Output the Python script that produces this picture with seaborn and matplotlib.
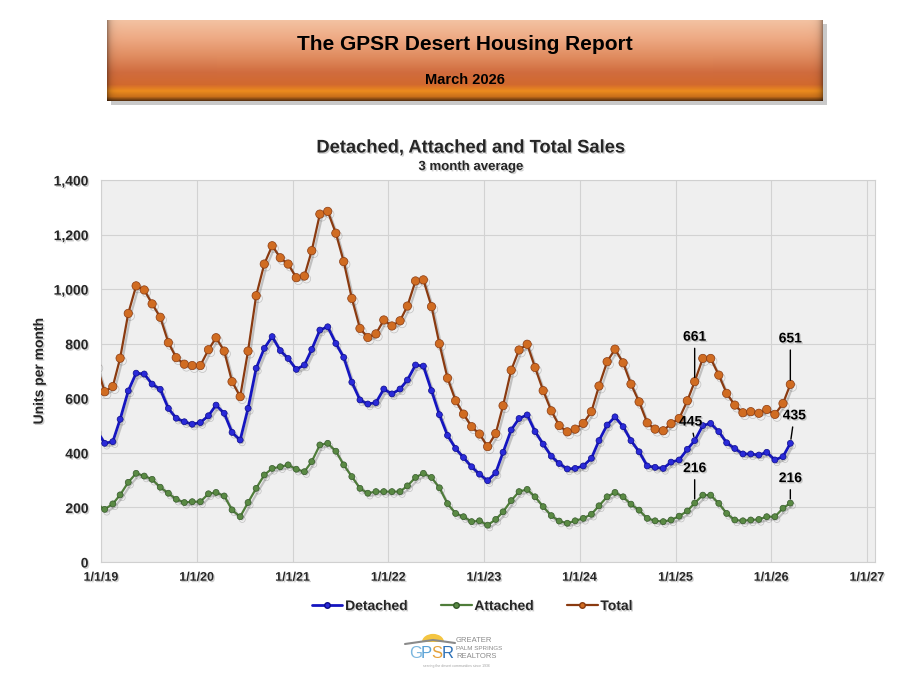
import numpy as np
import pandas as pd
import matplotlib
matplotlib.use("Agg")
import matplotlib.pyplot as plt
import matplotlib.patheffects as pe
from matplotlib.ticker import FuncFormatter, FixedLocator
from matplotlib.patches import Wedge, Rectangle
from matplotlib.lines import Line2D
from matplotlib import font_manager
import seaborn as sns

# ---------------- data ----------------
start_month = "2018-12-01"
end_month = "2026-03-01"

detached = [483,
            435, 441, 523, 627, 692, 689, 652, 633, 563, 527, 514, 505,
            511, 536, 575, 545, 475, 447, 563, 710, 783, 826, 775, 746,
            706, 722, 779, 850, 862, 801, 750, 659, 594, 579, 584, 634,
            616, 634, 667, 722, 718, 628, 540, 464, 416, 383, 349, 322,
            298, 327, 402, 484, 526, 539, 478, 432, 388, 361, 341, 343,
            352, 380, 445, 502, 532, 496, 445, 404, 352, 347, 343, 366,
            374, 413, 445, 500, 508, 478, 437, 416, 396, 396, 392, 402,
            374, 386, 435]

attached = [213,
            193, 213, 246, 292, 325, 315, 303, 274, 252, 230, 218, 221,
            221, 250, 255, 242, 191, 166, 218, 270, 319, 343, 349, 356,
            340, 331, 368, 429, 435, 406, 356, 313, 270, 252, 258, 258,
            258, 258, 279, 310, 325, 310, 272, 214, 178, 166, 148, 151,
            135, 156, 184, 225, 258, 266, 239, 203, 170, 150, 142, 151,
            160, 175, 206, 239, 255, 239, 212, 190, 160, 151, 148, 154,
            168, 187, 216, 245, 245, 215, 178, 154, 151, 154, 156, 166,
            166, 197, 216]

total = [720,
         624, 643, 747, 911, 1012, 997, 946, 897, 804, 749, 725, 720,
         720, 778, 822, 773, 661, 606, 773, 976, 1092, 1159, 1115, 1092,
         1042, 1048, 1141, 1275, 1285, 1205, 1101, 966, 856, 823, 836, 887,
         865, 884, 938, 1030, 1034, 936, 800, 674, 591, 542, 496, 469,
         423, 471, 573, 703, 777, 798, 713, 628, 554, 500, 477, 487,
         508, 551, 645, 734, 780, 730, 652, 587, 510, 487, 481, 507,
         526, 591, 661, 746, 746, 685, 618, 575, 547, 551, 545, 559,
         541, 581, 651]

series_names = ["Detached", "Attached", "Total"]
y_ticks = [0, 200, 400, 600, 800, 1000, 1200, 1400]
x_tick_years = [2019, 2020, 2021, 2022, 2023, 2024, 2025, 2026, 2027]
label_months = ["2025-03", "2026-03"]

banner_title = "The GPSR Desert Housing Report"
banner_sub = "March 2026"
chart_title = "Detached, Attached and Total Sales"
chart_sub = "3 month average"
y_label = "Units per month"

# ---------------- style ----------------
sns.set_style("white")
plt.rcParams["font.family"] = ["Liberation Sans", "DejaVu Sans"]

def has_font(name):
    try:
        font_manager.findfont(font_manager.FontProperties(family=name, weight="bold"),
                              fallback_to_default=False)
        return True
    except Exception:
        return False

narrow = "Liberation Sans Narrow" if has_font("Liberation Sans Narrow") else None

W, H = 915, 675
fig = plt.figure(figsize=(W / 100, H / 100), dpi=100)
fig.patch.set_facecolor("white")

shadow_txt = [pe.withSimplePatchShadow(offset=(1, -1), shadow_rgbFace="#777777", alpha=0.35)]

# ---------------- banner ----------------
bx0, by0, bw, bh = 107, 20, 716, 81
fig.add_artist(Rectangle(((bx0 + 4) / W, 1 - (by0 + bh + 4) / H), bw / W, bh / H,
                         transform=fig.transFigure, facecolor="#888888", alpha=0.45,
                         edgecolor="none", zorder=0))
bax = fig.add_axes([bx0 / W, 1 - (by0 + bh) / H, bw / W, bh / H], zorder=1)
stops = [(0.00, "#f3c2a2"), (0.22, "#eeaa84"), (0.45, "#e08c60"), (0.65, "#d06c3e"),
         (0.80, "#d2692e"), (0.88, "#ec8c1e"), (0.95, "#c9701a"), (1.00, "#5e3410")]
pos = np.array([s[0] for s in stops])
cols = np.array([matplotlib.colors.to_rgb(s[1]) for s in stops])
yy = np.linspace(0, 1, bh)
vert = np.stack([np.interp(yy, pos, cols[:, c]) for c in range(3)], axis=1)
xx = np.arange(bw)
d = np.minimum(xx, bw - 1 - xx)
hfac = 1 - 0.35 * np.exp(-d / 3.0)
img = vert[:, None, :] * hfac[None, :, None]
bax.imshow(img, aspect="auto", extent=(0, 1, 0, 1), interpolation="bilinear")
bax.set_axis_off()

fig.text(465 / W, 1 - 44 / H, banner_title, ha="center", va="center",
         fontsize=15, fontweight="bold", color="black", zorder=3)
fig.text(465 / W, 1 - 80 / H, banner_sub, ha="center", va="center",
         fontsize=10.5, fontweight="bold", color="black", zorder=3)

# ---------------- titles ----------------
tfam = [narrow, "Liberation Sans"] if narrow else ["Liberation Sans"]
fig.text(471 / W, 1 - 148 / H, chart_title, ha="center", va="center",
         fontsize=15.5 if narrow else 13.2, fontweight="bold", family=tfam,
         path_effects=shadow_txt)
fig.text(471 / W, 1 - 167 / H, chart_sub, ha="center", va="center",
         fontsize=9.5, fontweight="bold", path_effects=shadow_txt)

# ---------------- chart ----------------
months = pd.date_range(start_month, end_month, freq="MS") + pd.Timedelta(days=14)
df = pd.DataFrame({"date": months, "Detached": detached,
                   "Attached": attached, "Total": total})
long = df.melt(id_vars="date", var_name="series", value_name="units")

ax = fig.add_axes([101 / W, 1 - 562 / H, (875 - 101) / W, (562 - 180) / H])
ax.set_facecolor("#efefef")

styles = {
    "Detached": dict(line="#1515c0", mfc="#2a2ad8", mec="#0c0c8a", lw=2.0, ms=4.3, z=4),
    "Attached": dict(line="#4f7d3a", mfc="#5a8a44", mec="#34582a", lw=1.6, ms=4.3, z=3),
    "Total": dict(line="#8a3a10", mfc="#d06c22", mec="#8a3a10", lw=1.6, ms=6.0, z=5),
}
line_shadow = [pe.SimpleLineShadow(offset=(1.5, -2), shadow_color="#555555", alpha=0.3),
               pe.Normal()]
for name in series_names:
    st = styles[name]
    sns.lineplot(data=long[long["series"] == name], x="date", y="units", ax=ax,
                 color=st["line"], linewidth=st["lw"], marker="o",
                 markersize=st["ms"], markerfacecolor=st["mfc"],
                 markeredgecolor=st["mec"], markeredgewidth=0.5,
                 zorder=st["z"], label=name, path_effects=line_shadow)

ax.set_xlim(pd.Timestamp("2019-01-01"), pd.Timestamp("2027-02-01"))
ax.set_ylim(0, 1400)
ax.yaxis.set_major_locator(FixedLocator(y_ticks))
ax.yaxis.set_major_formatter(FuncFormatter(lambda v, p: f"{v:,.0f}"))
xt = [matplotlib.dates.date2num(pd.Timestamp(f"{y}-01-01")) for y in x_tick_years]
ax.set_xticks(xt)
ax.set_xticklabels([f"1/1/{y % 100:02d}" for y in x_tick_years])
ax.grid(True, color="#d2d2d2", linewidth=0.8)
ax.set_axisbelow(True)
for s in ax.spines.values():
    s.set_color("#d0d0d0")
    s.set_linewidth(0.8)
ax.tick_params(axis="both", length=0)
ax.tick_params(axis="y", pad=9, labelsize=10)
ax.tick_params(axis="x", pad=7, labelsize=9)
for lab in ax.get_xticklabels() + ax.get_yticklabels():
    lab.set_fontweight("bold")
    lab.set_path_effects(shadow_txt)
ax.set_xlabel("")
ax.set_ylabel(y_label, fontsize=10, fontweight="bold", path_effects=shadow_txt)
ax.yaxis.set_label_coords((46 - 101) / (875 - 101), 0.5)

# ---------------- data labels ----------------
offsets = {
    ("Total", "2025-03"): (0, 45), ("Detached", "2025-03"): (-4, 19),
    ("Attached", "2025-03"): (0, 35),
    ("Total", "2026-03"): (0, 46), ("Detached", "2026-03"): (4, 28),
    ("Attached", "2026-03"): (0, 25),
}
for name in series_names:
    for m in label_months:
        row = df[df["date"].dt.strftime("%Y-%m") == m].iloc[0]
        val = int(row[name])
        dx, dy = offsets[(name, m)]
        ax.annotate(f"{val}", xy=(row["date"], val), xytext=(dx, dy),
                    textcoords="offset pixels", ha="center", va="center",
                    fontsize=10, fontweight="bold", color="black", zorder=10,
                    path_effects=shadow_txt,
                    arrowprops=dict(arrowstyle="-", color="black", lw=1,
                                    shrinkA=1, shrinkB=3))

# ---------------- legend ----------------
if ax.get_legend() is not None:
    ax.get_legend().remove()
handles = [Line2D([], [], color=styles[n]["line"], lw=styles[n]["lw"], marker="o",
                  markersize=4, markerfacecolor=styles[n]["mfc"],
                  markeredgecolor=styles[n]["mec"]) for n in series_names]
leg = fig.legend(handles, series_names, loc="center", bbox_to_anchor=(472 / W, 1 - 606 / H),
                 ncol=3, frameon=False, prop=dict(weight="bold", size=10),
                 handlelength=2.2, handletextpad=0.2, columnspacing=2.4)
for t in leg.get_texts():
    t.set_path_effects(shadow_txt)

# ---------------- logo ----------------
fig.add_artist(Wedge((433 / W, 1 - 642 / H), 11 / W, 0, 180, transform=fig.transFigure,
                     facecolor="#f4c542", edgecolor="none", zorder=2))
fig.add_artist(Line2D([405 / W, 433 / W, 455 / W], [1 - 644 / H, 1 - 640 / H, 1 - 643 / H],
                      transform=fig.transFigure, color="#8a8a8a", lw=1.5, zorder=3))
gx = 409
for ch, col in zip("GPSR", ["#7ab6de", "#5aa2d6", "#e6a23a", "#2f72b8"]):
    fig.text(gx / W, 1 - 653 / H, ch, ha="left", va="center", fontsize=12,
             color=col, family=["Liberation Sans"])
    gx += {"G": 12, "P": 10.5, "S": 10.5, "R": 11}[ch]
fig.text(456 / W, 1 - 641 / H, "GREATER", fontsize=5.5, color="#8a8a8a", ha="left", va="center")
fig.text(456 / W, 1 - 649 / H, "PALM SPRINGS", fontsize=4.5, color="#8a8a8a", ha="left", va="center")
fig.text(456 / W, 1 - 657 / H, "REALTORS", fontsize=5.5, color="#8a8a8a", ha="left", va="center")
fig.text(456 / W, 1 - 666 / H, "serving the desert communities since 1936", fontsize=2.5,
         color="#a0a0a0", ha="center", va="center")

fig.savefig("out.png", dpi=100, facecolor="white")
